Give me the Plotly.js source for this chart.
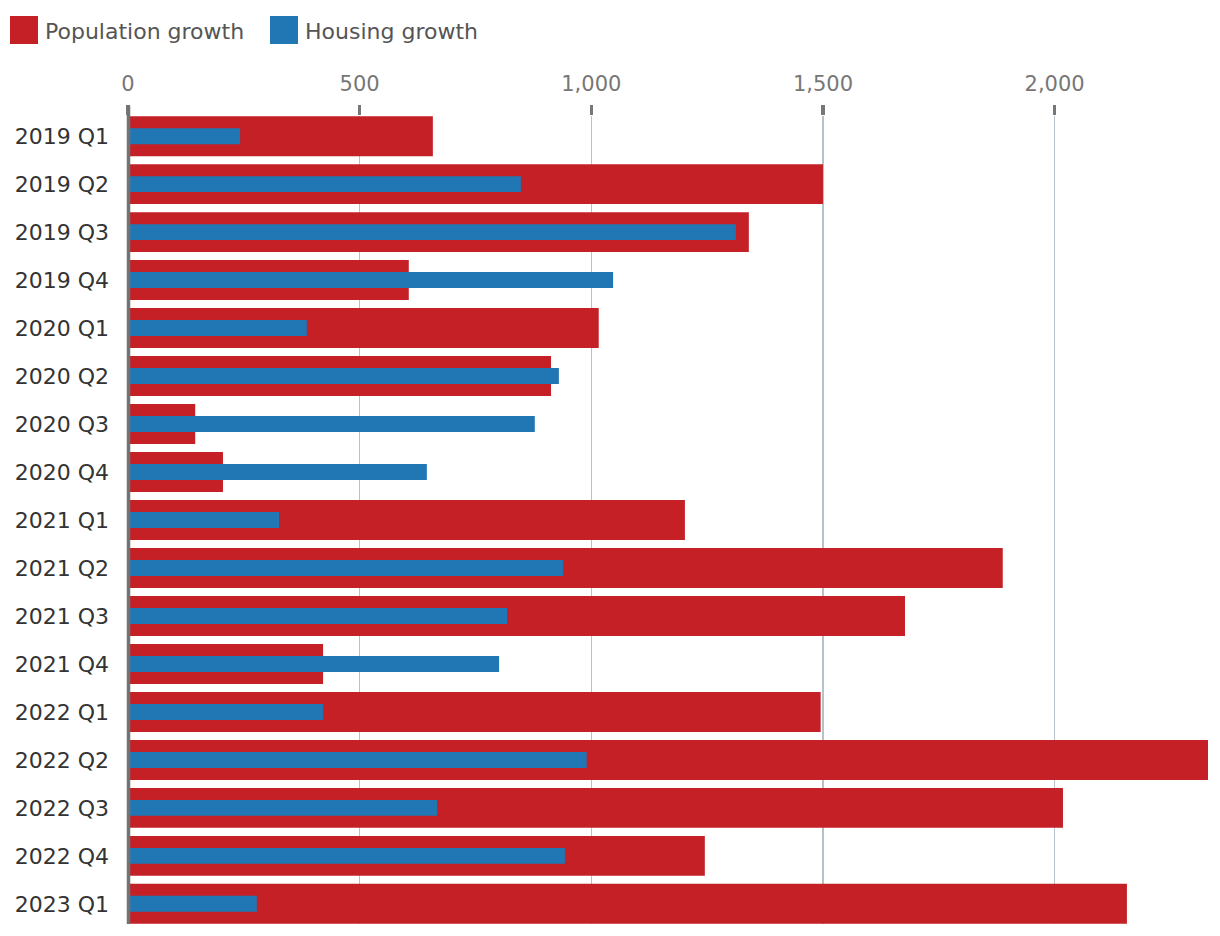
<!DOCTYPE html>
<html>
<head>
<meta charset="utf-8">
<script src="https://cdn.plot.ly/plotly-3.0.1.min.js"></script>
<style>html,body{margin:0;padding:0;background:#fff;}#chart{width:1220px;height:936px;}</style>
</head>
<body>
<div id="chart"></div>
<script>
const quarters = ["2019 Q1","2019 Q2","2019 Q3","2019 Q4","2020 Q1","2020 Q2","2020 Q3","2020 Q4","2021 Q1","2021 Q2","2021 Q3","2021 Q4","2022 Q1","2022 Q2","2022 Q3","2022 Q4","2023 Q1"];
const populationGrowth = [658,1500,1340,606,1016,913,145,205,1202,1888,1677,421,1495,2331,2018,1245,2156];
const housingGrowth = [242,848,1312,1047,386,930,878,645,326,939,818,801,421,990,667,943,278];
const seriesNames = ["Population growth","Housing growth"];
const tickVals = [0,500,1000,1500,2000];
const tickText = ["0","500","1,000","1,500","2,000"];

const RED = "#c42026", BLUE = "#2077b4";
const FONT = "DejaVu Sans";
const W = 1220, H = 936, L = 128, R = 12, T = 116, B = 12;
const pw = W - L - R, ph = H - T - B;
const px = v => (v - L) / pw;
const py = v => 1 - (v - T) / ph;

const traces = [
  {type:"bar", orientation:"h", name:seriesNames[0], y:quarters, x:populationGrowth,
   marker:{color:RED}, width:0.833, hoverinfo:"x+y+name"},
  {type:"bar", orientation:"h", name:seriesNames[1], y:quarters, x:housingGrowth,
   marker:{color:BLUE}, width:0.333, hoverinfo:"x+y+name"}
];

const legendItems = [
  {name:seriesNames[0], color:RED, x:10},
  {name:seriesNames[1], color:BLUE, x:270}
];
const shapes = [
  {type:"line", xref:"paper", yref:"paper", x0:px(128.5), x1:px(128.5), y0:py(924), y1:py(106), line:{color:"#737373", width:3.5}, layer:"above"}
];
const annotations = [];
legendItems.forEach(it => {
  shapes.push({type:"rect", xref:"paper", yref:"paper", x0:px(it.x), x1:px(it.x+28), y0:py(44), y1:py(16),
    fillcolor:it.color, line:{width:0}});
  annotations.push({xref:"paper", yref:"paper", x:px(it.x+33), y:py(31), xanchor:"left", yanchor:"middle",
    text:it.name, showarrow:false, font:{family:FONT, size:22, color:"#555"}});
});

const layout = {
  width:W, height:H,
  margin:{l:L, r:R, t:T, b:B},
  paper_bgcolor:"#fff", plot_bgcolor:"#fff",
  barmode:"overlay",
  showlegend:false,
  font:{family:FONT},
  xaxis:{
    side:"top", range:[0,2331], tickvals:tickVals, ticktext:tickText,
    ticks:"outside", ticklen:10, tickwidth:3.5, tickcolor:"#777",
    showgrid:true, gridcolor:"#b5c2cb", gridwidth:1.2,
    zeroline:false, showline:false,
    tickfont:{family:FONT, size:21, color:"#777"}, ticklabelstandoff:6
  },
  yaxis:{
    type:"category", categoryorder:"array", categoryarray:quarters,
    range:[16.42,-0.42], showgrid:false, zeroline:false, showline:false,
    ticks:"", tickfont:{family:FONT, size:22, color:"#333"}, ticklabelstandoff:18
  },
  shapes:shapes, annotations:annotations
};
Plotly.newPlot("chart", traces, layout, {displayModeBar:false, staticPlot:true});
</script>
</body>
</html>
